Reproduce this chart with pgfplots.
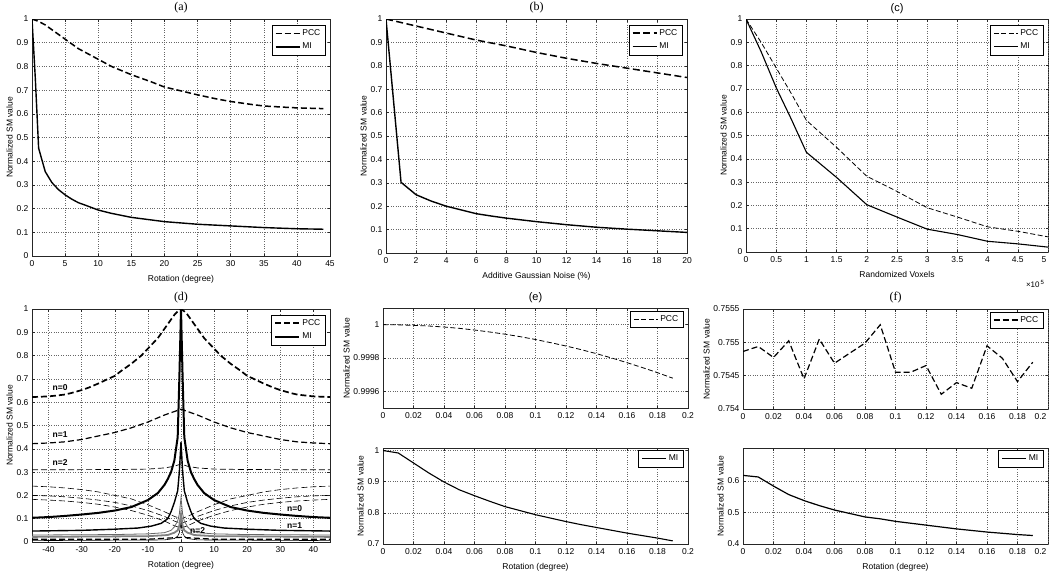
\documentclass[border=0pt]{standalone}
\usepackage{fontspec}
\setmainfont{Liberation Sans}
\newfontfamily\seriffont{Liberation Serif}
\usepackage{pgfplots}
\pgfplotsset{compat=1.18}

\pgfplotsset{
  mat/.style={
    scale only axis, anchor=south west,
    axis line style={line width=0.7pt, black!85},
    tick align=inside, major tick length=2.5pt,
    every tick/.style={black!85, line width=0.5pt},
    grid=major, major grid style={dotted, black!60, line width=0.5pt},
    tick label style={font=\fontsize{8.5}{9}\selectfont},
    label style={font=\fontsize{8.5}{9}\selectfont},
    title style={font=\seriffont\fontsize{12}{13}\selectfont, yshift=-4pt},
    /pgf/number format/assume math mode=true,
    /pgf/number format/fixed,
    ylabel={Normalized SM value},
    legend style={font=\fontsize{8.5}{9}\selectfont, draw=black, at={(0.985,0.975)}, anchor=north east, inner xsep=3pt, inner ysep=2.5pt, row sep=2pt},
    legend image code/.code={\draw[##1] (0pt,0pt) -- (24pt,0pt);},
    legend cell align=left,
    every axis plot/.append style={no marks, black},
    xticklabel style={yshift=-1.5pt}, yticklabel style={xshift=0pt},
    xlabel style={yshift=-1pt}, ylabel style={yshift=-3pt},
    clip mode=individual,
  },
  lasttick/.style={extra x tick style={xticklabel style={anchor=north east, xshift=2pt}}},
}

\begin{document}
\begin{tikzpicture}

% ---------------- (a)
\begin{axis}[mat, at={(32pt,-256pt)}, width=298pt, height=237pt,
  xmin=0, xmax=45, ymin=0, ymax=1,
  xtick={0,5,10,15,20,25,30,35,40,45},
  ytick={0,0.1,0.2,0.3,0.4,0.5,0.6,0.7,0.8,0.9,1},
  legend image post style={line width=1.6pt},
  title={(a)}, xlabel={Rotation (degree)}]
\addplot[line width=1.5pt, dash pattern=on 6pt off 3pt] coordinates {(0,1) (1,0.99) (2,0.975) (3,0.955) (5,0.915) (7,0.875) (10,0.83) (12,0.8) (15,0.765) (18,0.735) (20,0.713) (22,0.7) (25,0.68) (28,0.662) (30,0.652) (33,0.64) (35,0.633) (38,0.628) (40,0.625) (44,0.622)};
\addlegendentry{PCC}
\addplot[line width=1.4pt] coordinates {(0,1) (0.5,0.75) (1,0.455) (2,0.356) (3,0.31) (4,0.28) (5,0.258) (6,0.24) (7,0.225) (8,0.215) (10,0.194) (12,0.18) (15,0.163) (20,0.145) (25,0.134) (30,0.127) (35,0.12) (40,0.115) (44,0.113)};
\addlegendentry{MI}
\end{axis}

% ---------------- (b)
\begin{axis}[mat, at={(386pt,-253pt)}, width=301pt, height=234pt,
  xmin=0, xmax=20, ymin=0, ymax=1,
  xtick={0,2,4,6,8,10,12,14,16,18,20},
  ytick={0,0.1,0.2,0.3,0.4,0.5,0.6,0.7,0.8,0.9,1},
  legend image post style={line width=1.6pt},
  title={(b)}, xlabel={Additive Gaussian Noise (\%)}]
\addplot[line width=1.5pt, dash pattern=on 7pt off 3.5pt] coordinates {(0,1) (2,0.97) (4,0.94) (6,0.91) (8,0.885) (10,0.857) (12,0.832) (14,0.81) (16,0.79) (18,0.77) (20,0.75)};
\addlegendentry{PCC}
\addplot[line width=1.4pt] coordinates {(0,1) (1,0.302) (2,0.249) (3,0.222) (4,0.2) (5,0.184) (6,0.168) (7,0.158) (8,0.149) (10,0.134) (12,0.121) (14,0.11) (16,0.102) (18,0.095) (20,0.088)};
\addlegendentry{MI}
\end{axis}

% ---------------- (c)
\begin{axis}[mat, lasttick, at={(746pt,-252pt)}, width=302pt, height=233pt,
  xmin=0, xmax=5, ymin=0, ymax=1,
  xtick={0,0.5,1,1.5,2,2.5,3,3.5,4,4.5}, extra x ticks={5},
  ytick={0,0.1,0.2,0.3,0.4,0.5,0.6,0.7,0.8,0.9,1},
  title={(c)}, title style={font=\fontsize{11}{12}\selectfont},
  xlabel={Randomized Voxels}]
\addplot[line width=0.8pt, dash pattern=on 5pt off 2.5pt] coordinates {(0,1) (0.25,0.9) (0.5,0.79) (0.75,0.68) (1,0.565) (1.5,0.449) (2,0.325) (2.5,0.26) (3,0.19) (3.5,0.15) (4,0.108) (4.5,0.089) (5,0.065)};
\addlegendentry{PCC}
\addplot[line width=1.1pt] coordinates {(0,1) (0.25,0.86) (0.5,0.705) (0.75,0.57) (1,0.428) (1.5,0.32) (2,0.203) (2.5,0.15) (3,0.098) (3.5,0.075) (4,0.046) (4.5,0.035) (5,0.021)};
\addlegendentry{MI}
\node[font=\fontsize{8}{9}\selectfont, anchor=north east] at (rel axis cs:1,0) [yshift=-25pt] {×10\textsuperscript{\,5}};
\end{axis}

% ---------------- (d)
\begin{axis}[mat, at={(32pt,-542pt)}, width=298pt, height=233pt,
  xmin=-45, xmax=45, ymin=0, ymax=1,
  xtick={-40,-30,-20,-10,0,10,20,30,40},
  ytick={0,0.1,0.2,0.3,0.4,0.5,0.6,0.7,0.8,0.9,1},
  title={(d)}, xlabel={Rotation (degree)}]
\addplot[line width=1.7pt, dash pattern=on 6pt off 3pt] coordinates {(-45,0.622) (-40,0.625) (-38,0.628) (-35,0.633) (-33,0.64) (-30,0.652) (-28,0.662) (-25,0.68) (-22,0.7) (-20,0.713) (-18,0.735) (-15,0.765) (-12,0.8) (-10,0.83) (-7,0.875) (-5,0.915) (-3,0.955) (-2,0.975) (-1,0.99) (0,1) (1,0.99) (2,0.975) (3,0.955) (5,0.915) (7,0.875) (10,0.83) (12,0.8) (15,0.765) (18,0.735) (20,0.713) (22,0.7) (25,0.68) (28,0.662) (30,0.652) (33,0.64) (35,0.633) (38,0.628) (40,0.625) (45,0.622)};
\addlegendentry{PCC}
\addplot[line width=2pt] coordinates {(-45,0.104) (-40,0.107) (-35,0.112) (-30,0.118) (-25,0.125) (-20,0.135) (-15,0.15) (-10,0.18) (-7,0.21) (-5,0.245) (-4,0.27) (-3,0.3) (-2,0.35) (-1,0.45) (-0.5,0.7) (0,1) (0.5,0.7) (1,0.45) (2,0.35) (3,0.3) (4,0.27) (5,0.245) (7,0.21) (10,0.18) (15,0.15) (20,0.135) (25,0.125) (30,0.118) (35,0.112) (40,0.107) (45,0.104)};
\addlegendentry{MI}
% PCC n=1
\addplot[forget plot, line width=1.2pt, dash pattern=on 6pt off 3pt] coordinates {(-45,0.422) (-40,0.425) (-35,0.43) (-30,0.44) (-25,0.455) (-20,0.47) (-15,0.49) (-10,0.515) (-5,0.545) (-2,0.56) (0,0.57) (2,0.56) (5,0.545) (10,0.515) (15,0.49) (20,0.47) (25,0.455) (30,0.44) (35,0.43) (40,0.425) (45,0.422)};
% PCC n=2
\addplot[forget plot, line width=0.7pt, dash pattern=on 6pt off 3pt] coordinates {(-45,0.31) (-20,0.311) (-10,0.313) (-5,0.318) (-2,0.325) (0,0.335) (2,0.325) (5,0.318) (10,0.313) (20,0.311) (45,0.31)};
% other PCC (V shapes)
\addplot[forget plot, line width=0.6pt, dash pattern=on 6pt off 3pt] coordinates {(-45,0.24) (-40,0.237) (-35,0.232) (-30,0.225) (-25,0.215) (-20,0.2) (-15,0.185) (-10,0.16) (-5,0.13) (-2,0.11) (0,0.1) (2,0.11) (5,0.13) (10,0.16) (15,0.185) (20,0.2) (25,0.215) (30,0.225) (35,0.232) (40,0.237) (45,0.24)};
\addplot[forget plot, line width=0.6pt, dash pattern=on 6pt off 3pt] coordinates {(-45,0.2) (-40,0.198) (-35,0.194) (-30,0.188) (-25,0.18) (-20,0.17) (-15,0.155) (-10,0.135) (-5,0.11) (-2,0.09) (0,0.08) (2,0.09) (5,0.11) (10,0.135) (15,0.155) (20,0.17) (25,0.18) (30,0.188) (35,0.194) (40,0.198) (45,0.2)};
\addplot[forget plot, line width=0.6pt, dash pattern=on 6pt off 3pt] coordinates {(-45,0.183) (-40,0.18) (-35,0.176) (-30,0.17) (-25,0.162) (-20,0.15) (-15,0.135) (-10,0.115) (-5,0.09) (-2,0.07) (0,0.06) (2,0.07) (5,0.09) (10,0.115) (15,0.135) (20,0.15) (25,0.162) (30,0.17) (35,0.176) (40,0.18) (45,0.183)};
\addplot[forget plot, line width=1.2pt, dash pattern=on 6pt off 3pt] coordinates {(-45,0.012) (-10,0.012) (0,0.02) (10,0.012) (45,0.012)};
% MI n=1
\addplot[forget plot, line width=1.4pt] coordinates {(-45,0.047) (-30,0.05) (-20,0.055) (-13,0.06) (-9,0.068) (-6,0.08) (-4,0.1) (-3,0.13) (-2,0.17) (-1,0.22) (-0.5,0.3) (0,0.43) (0.5,0.3) (1,0.22) (2,0.17) (3,0.13) (4,0.1) (6,0.08) (9,0.068) (13,0.06) (20,0.055) (30,0.05) (45,0.047)};
% MI n=2 and higher
\addplot[forget plot, line width=0.8pt, black!60] coordinates {(-45,0.03) (-20,0.032) (-10,0.035) (-5,0.04) (-3,0.05) (-2,0.065) (-1,0.09) (-0.5,0.12) (0,0.19) (0.5,0.12) (1,0.09) (2,0.065) (3,0.05) (5,0.04) (10,0.035) (20,0.032) (45,0.03)};
\addplot[forget plot, line width=1.8pt, black!50] coordinates {(-45,0.022) (-10,0.025) (-4,0.03) (-2,0.04) (-1,0.05) (-0.5,0.07) (0,0.12) (0.5,0.07) (1,0.05) (2,0.04) (4,0.03) (10,0.025) (45,0.022)};
\addplot[forget plot, line width=0.6pt] coordinates {(-45,0.006) (-5,0.009) (-2,0.015) (-1,0.025) (-0.5,0.04) (0,0.08) (0.5,0.04) (1,0.025) (2,0.015) (5,0.009) (45,0.006)};
\node[font=\bfseries\fontsize{8.5}{9}\selectfont] at (axis cs:-36.5,0.664) {n=0};
\node[font=\bfseries\fontsize{8.5}{9}\selectfont] at (axis cs:-36.5,0.459) {n=1};
\node[font=\bfseries\fontsize{8.5}{9}\selectfont] at (axis cs:-36.5,0.34) {n=2};
\node[font=\bfseries\fontsize{8.5}{9}\selectfont] at (axis cs:34.3,0.145) {n=0};
\node[font=\bfseries\fontsize{8.5}{9}\selectfont] at (axis cs:34.3,0.069) {n=1};
\node[font=\bfseries\fontsize{8.5}{9}\selectfont] at (axis cs:5,0.051) {n=2};
\end{axis}

% ---------------- (e) top
\begin{axis}[mat, at={(383pt,-408pt)}, width=305pt, height=100pt,
  xmin=0, xmax=0.2, ymin=0.9995, ymax=1.0001,
  xtick={0,0.02,0.04,0.06,0.08,0.1,0.12,0.14,0.16,0.18,0.2},
  ytick={0.9996,0.9998,1}, yticklabels={0.9996,0.9998,1},
  title={(e)}, title style={font=\fontsize{11}{12}\selectfont}]
\addplot[line width=0.8pt, dash pattern=on 5pt off 2.5pt] coordinates {(0,1.0) (0.01,0.999999) (0.02,0.999996) (0.03,0.999992) (0.04,0.999986) (0.05,0.999978) (0.06,0.999968) (0.07,0.999956) (0.08,0.999943) (0.09,0.999928) (0.1,0.999911) (0.11,0.999892) (0.12,0.999872) (0.13,0.99985) (0.14,0.999826) (0.15,0.9998) (0.16,0.999772) (0.17,0.999743) (0.18,0.999712) (0.19,0.999679)};
\addlegendentry{PCC}
\end{axis}

% ---------------- (e) bottom
\begin{axis}[mat, at={(383pt,-544pt)}, width=305pt, height=96pt,
  xmin=0, xmax=0.2, ymin=0.7, ymax=1.008,
  xtick={0,0.02,0.04,0.06,0.08,0.1,0.12,0.14,0.16,0.18,0.2},
  ytick={0.7,0.8,0.9,1},
  xlabel={Rotation (degree)}]
\addplot[line width=1.1pt] coordinates {(0,1.0) (0.01,0.992) (0.02,0.96) (0.03,0.928) (0.04,0.899) (0.05,0.874) (0.06,0.855) (0.07,0.837) (0.08,0.82) (0.09,0.807) (0.1,0.794) (0.11,0.783) (0.12,0.772) (0.13,0.762) (0.14,0.753) (0.15,0.744) (0.16,0.735) (0.17,0.727) (0.18,0.719) (0.19,0.71)};
\addlegendentry{MI}
\end{axis}

% ---------------- (f) top
\begin{axis}[mat, lasttick, at={(743pt,-409pt)}, width=305pt, height=100pt,
  xmin=0, xmax=0.2, ymin=0.754, ymax=0.7555,
  xtick={0,0.02,0.04,0.06,0.08,0.1,0.12,0.14,0.16,0.18}, extra x ticks={0.2},
  ytick={0.754,0.7545,0.755,0.7555}, yticklabels={0.754,0.7545,0.755,0.7555},
  title={(f)}]
\addplot[line width=1.2pt, dash pattern=on 6pt off 3pt] coordinates {(0,0.754863) (0.01,0.754938) (0.02,0.754773) (0.03,0.755023) (0.04,0.754452) (0.05,0.755048) (0.06,0.754687) (0.07,0.754838) (0.08,0.754988) (0.09,0.755264) (0.1,0.754552) (0.11,0.754552) (0.12,0.754652) (0.13,0.754221) (0.14,0.754396) (0.15,0.754311) (0.16,0.754948) (0.17,0.754763) (0.18,0.754411) (0.19,0.754702)};
\addlegendentry{PCC}
\end{axis}

% ---------------- (f) bottom
\begin{axis}[mat, lasttick, at={(743pt,-544pt)}, width=305pt, height=96pt,
  xmin=0, xmax=0.2, ymin=0.4, ymax=0.705,
  xtick={0,0.02,0.04,0.06,0.08,0.1,0.12,0.14,0.16,0.18}, extra x ticks={0.2},
  ytick={0.4,0.5,0.6},
  xlabel={Rotation (degree)}]
\addplot[line width=1.2pt] coordinates {(0,0.618) (0.01,0.613) (0.02,0.584) (0.03,0.557) (0.04,0.538) (0.05,0.522) (0.06,0.508) (0.07,0.497) (0.08,0.486) (0.09,0.48) (0.1,0.472) (0.12,0.46) (0.14,0.448) (0.16,0.438) (0.18,0.43) (0.19,0.427)};
\addlegendentry{MI}
\end{axis}

\pgfresetboundingbox
\path[use as bounding box] (0pt,0pt) rectangle (1050pt,-574pt);
\end{tikzpicture}
\end{document}
